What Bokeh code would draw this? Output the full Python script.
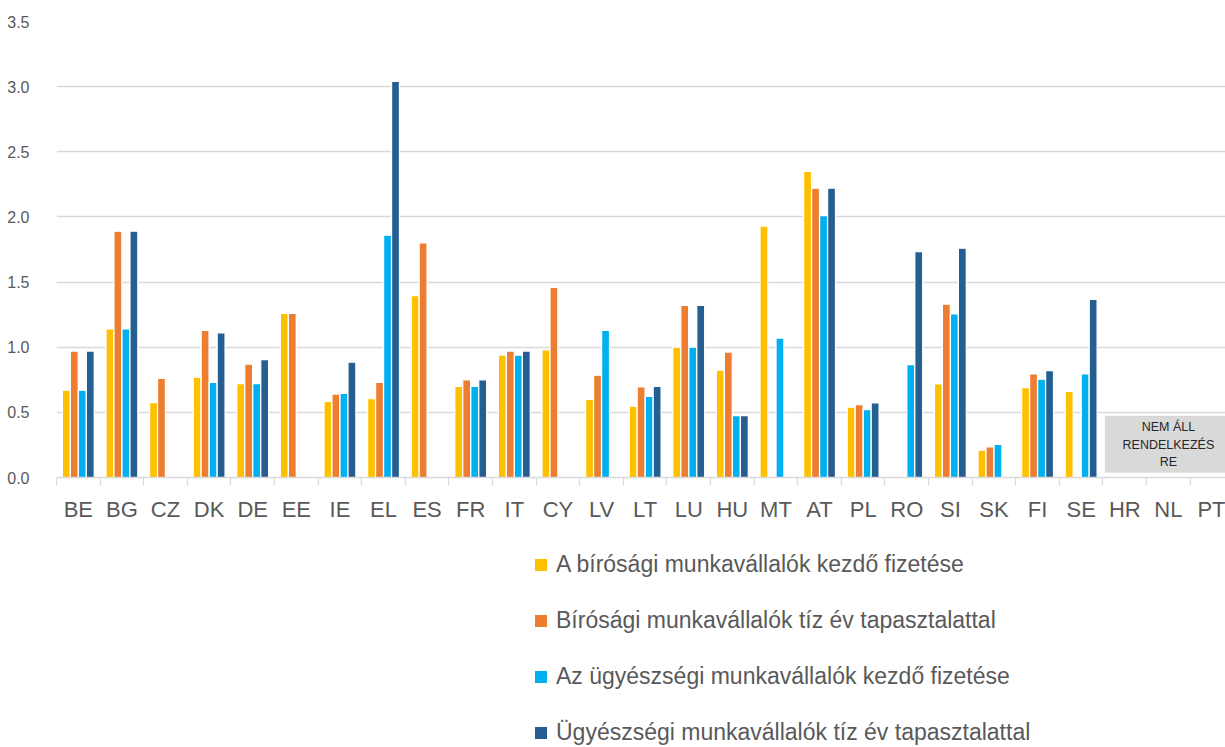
from bokeh.plotting import figure
from bokeh.layouts import column
from bokeh.models import (Range1d, FixedTicker, ColumnDataSource, Legend, LegendItem,
                          BoxAnnotation, Label, NumeralTickFormatter)
from bokeh.embed import file_html
from bokeh.resources import INLINE

categories = ["BE", "BG", "CZ", "DK", "DE", "EE", "IE", "EL", "ES", "FR", "IT", "CY", "LV", "LT",
              "LU", "HU", "MT", "AT", "PL", "RO", "SI", "SK", "FI", "SE", "HR", "NL", "PT"]

judges_start = [0.67, 1.14, 0.575, 0.77, 0.72, 1.26, 0.585, 0.605, 1.395, 0.70, 0.94, 0.98, 0.60, 0.547,
                1.00, 0.823, 1.93, 2.35, 0.54, None, 0.718, 0.21, 0.69, 0.66, None, None, None]
judges_10y = [0.97, 1.89, 0.76, 1.13, 0.87, 1.26, 0.64, 0.73, 1.80, 0.75, 0.97, 1.46, 0.785, 0.695,
              1.32, 0.963, None, 2.22, 0.56, None, 1.33, 0.235, 0.795, None, None, None, None]
prosec_start = [0.67, 1.14, None, 0.73, 0.72, None, 0.645, 1.86, None, 0.70, 0.94, None, 1.13, 0.623,
                1.00, 0.475, 1.07, 2.01, 0.52, 0.867, 1.255, 0.255, 0.754, 0.795, None, None, None]
prosec_10y = [0.97, 1.89, None, 1.11, 0.905, None, 0.885, 3.04, None, 0.75, 0.97, None, None, 0.70,
              1.32, 0.475, None, 2.22, 0.572, 1.733, 1.76, None, 0.82, 1.367, None, None, None]

series_names = ["A bírósági munkavállalók kezdő fizetése",
                "Bírósági munkavállalók tíz év tapasztalattal",
                "Az ügyészségi munkavállalók kezdő fizetése",
                "Ügyészségi munkavállalók tíz év tapasztalattal"]
series_values = [judges_start, judges_10y, prosec_start, prosec_10y]
colors = ["#FFC000", "#ED7D31", "#00B0F0", "#255E91"]
offsets = [-0.275, -0.092, 0.092, 0.275]

y_ticks = [0.0, 0.5, 1.0, 1.5, 2.0, 2.5, 3.0, 3.5]
na_text = "NEM ÁLL\nRENDELKEZÉS\nRE"

n = len(categories)
centers = [i + 0.5 for i in range(n)]

p = figure(width=1225, height=530, output_backend="svg", toolbar_location=None,
           x_range=Range1d(0, 26.81), y_range=Range1d(0, 3.5),
           min_border_left=56, min_border_right=0, min_border_top=21, min_border_bottom=53)
p.outline_line_color = None
p.background_fill_color = "white"
p.border_fill_color = "white"

for name, vals, col, off in zip(series_names, series_values, colors, offsets):
    xs = [c + off for c, v in zip(centers, vals) if v is not None]
    tops = [v for v in vals if v is not None]
    src = ColumnDataSource(dict(x=xs, top=tops))
    p.vbar(x="x", top="top", width=0.18, bottom=0, source=src,
           fill_color=col, line_color="white", line_width=1.2)

# "not available" box
box = BoxAnnotation(left=24.05, right=26.95, bottom=0.038, top=0.472,
                    fill_color="#d9d9d9", fill_alpha=1.0,
                    line_color="#b0b0b0", line_dash="1 1", line_width=1)
p.add_layout(box)
lab = Label(x=25.5, y=0.253, text=na_text, text_align="center", text_baseline="middle",
            text_font="Liberation Sans", text_font_size="12.5px", text_color="#262626",
            text_line_height=1.22)
p.add_layout(lab)

# axes
xa = p.xaxis[0]
xa.ticker = FixedTicker(ticks=centers, minor_ticks=list(range(n + 1)))
xa.major_label_overrides = {c: cat for c, cat in zip(centers, categories)}
xa.major_tick_line_color = None
xa.major_tick_out = 0
xa.major_tick_in = 0
xa.minor_tick_line_color = "#d9d9d9"
xa.minor_tick_line_width = 1.3
xa.minor_tick_out = 8
xa.minor_tick_in = 0
xa.axis_line_color = "#d9d9d9"
xa.axis_line_width = 1.3
xa.major_label_text_font = "Liberation Sans"
xa.major_label_text_font_size = "22px"
xa.major_label_text_color = "#595959"
xa.major_label_standoff = 11

ya = p.yaxis[0]
ya.ticker = FixedTicker(ticks=y_ticks)
ya.formatter = NumeralTickFormatter(format="0.0")
ya.axis_line_color = None
ya.major_tick_line_color = None
ya.minor_tick_line_color = None
ya.major_tick_out = 0
ya.major_tick_in = 0
ya.major_label_text_font = "Liberation Sans"
ya.major_label_text_font_size = "16px"
ya.major_label_text_color = "#595959"
ya.major_label_standoff = 27

p.xgrid.grid_line_color = None
p.ygrid.grid_line_color = "#d9d9d9"
p.ygrid.grid_line_width = 1.3

# legend panel below the chart (swatch renderers sit outside its visible range)
lg = figure(width=1225, height=217, output_backend="svg", toolbar_location=None,
            x_axis_type=None, y_axis_type=None, x_range=Range1d(0, 1), y_range=Range1d(0, 1),
            min_border_left=0, min_border_right=0, min_border_top=0, min_border_bottom=0)
lg.outline_line_color = None
lg.xgrid.grid_line_color = None
lg.ygrid.grid_line_color = None
lg.background_fill_color = "white"
lg.border_fill_color = "white"
items = []
for name, col in zip(series_names, colors):
    r = lg.vbar(x=[-10], top=[-10], bottom=[-11], width=0.1, fill_color=col, line_color=None)
    items.append(LegendItem(label=name, renderers=[r]))
legend = Legend(items=items, orientation="vertical", location=(477, 1),
                glyph_width=15, glyph_height=15, label_standoff=8, label_height=26,
                label_text_font="Liberation Sans", label_text_font_size="23px",
                label_text_color="#595959", spacing=29, padding=0, margin=0,
                border_line_color=None, background_fill_alpha=0)
lg.add_layout(legend, "center")

open("out.html", "w").write(file_html(column(p, lg, spacing=0), INLINE))
